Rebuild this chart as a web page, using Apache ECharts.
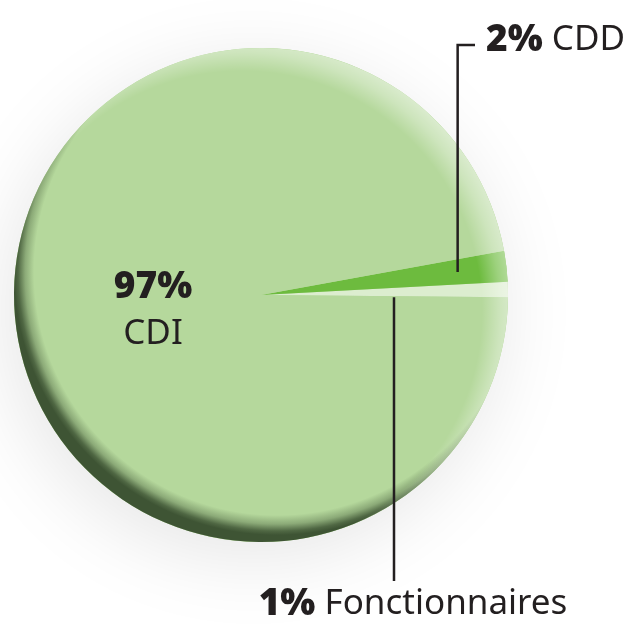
<!DOCTYPE html>
<html>
<head>
<meta charset="utf-8">
<script src="https://cdn.jsdelivr.net/npm/echarts@6/dist/echarts.min.js"></script>
<style>
html,body{margin:0;padding:0;background:#fff;}
#chart{width:636px;height:626px;}
</style>
</head>
<body>
<div id="chart"></div>
<script>
// ---- data ----
const categories = ['Fonctionnaires', 'CDD', 'CDI'];
const shares = [1, 2, 97];
const pctLabels = ['1%', '2%', '97%'];
const sliceColors = ['#dcedcf', '#6dbb3e', '#b5d89c'];

// ---- geometry / style ----
const CX = 261, CY = 295, R = 247;
const START = -0.5; // degrees, counterclockwise
const TXT = '#231f20';
const FONT = '"Noto Sans", sans-serif';

const total = shares.reduce((a, b) => a + b, 0);
function sliceAngles(i) {
  let before = 0;
  for (let k = 0; k < i; k++) before += shares[k];
  const a0 = START + 360 * before / total;
  const a1 = a0 + 360 * shares[i] / total;
  return [a0, a1];
}
function polar(angDeg, r) {
  const a = angDeg * Math.PI / 180;
  return [CX + r * Math.cos(a), CY - r * Math.sin(a)];
}

const pieData = categories.map((c, i) => ({
  name: c, value: shares[i], itemStyle: { color: sliceColors[i] }
}));

const labelData = categories.map((c, i) => ({
  name: c, value: shares[i],
  label: {
    formatter: i === 2 ? '{b|' + pctLabels[i] + '}\n{n|' + c + '}' : '{b|' + pctLabels[i] + '}{n| ' + c + '}'
  },
  labelLine: { show: i !== 2 }
}));

function labelLayout(p) {
  const i = p.dataIndex;
  if (i === 1) { // CDD
    const [a0, a1] = sliceAngles(1);
    const s = polar((a0 + a1) / 2, 198);
    const topY = 45;
    return {
      x: 486, y: 40, align: 'left', verticalAlign: 'middle',
      labelLinePoints: [[s[0], s[1]], [s[0], topY], [475, topY]]
    };
  }
  if (i === 0) { // Fonctionnaires
    const [a0] = sliceAngles(0);
    const x = 394;
    const y0 = CY - (x - CX) * Math.tan(a0 * Math.PI / 180) + 1;
    return {
      x: 413, y: 604, align: 'center', verticalAlign: 'middle',
      labelLinePoints: [[x, y0], [x, 440], [x, 581]]
    };
  }
  return { x: 153, y: 311, align: 'center', verticalAlign: 'middle' };
}

// overlay gradients
const darkDir = [-0.574, 0.819], darkE = 28, darkR = R + darkE;
const hiDir = [0.766, -0.643], hiE = 25, hiR = R + hiE;
const darkGrad = {
  type: 'radial', global: true,
  x: CX - darkE * darkDir[0], y: CY - darkE * darkDir[1], r: darkR,
  colorStops: [
    { offset: 0, color: 'rgba(62,84,52,0)' },
    { offset: 243 / darkR, color: 'rgba(62,84,52,0)' },
    { offset: 252 / darkR, color: 'rgba(62,84,52,0.35)' },
    { offset: 259 / darkR, color: 'rgba(62,84,52,0.85)' },
    { offset: 263 / darkR, color: 'rgba(62,84,52,1)' },
    { offset: 1, color: 'rgba(62,84,52,1)' }
  ]
};
const hiGrad = {
  type: 'radial', global: true,
  x: CX - hiE * hiDir[0], y: CY - hiE * hiDir[1], r: hiR,
  colorStops: [
    { offset: 0, color: 'rgba(255,255,255,0)' },
    { offset: 240 / hiR, color: 'rgba(255,255,255,0)' },
    { offset: 0.95, color: 'rgba(255,255,255,0.33)' },
    { offset: 1, color: 'rgba(255,255,255,0.5)' }
  ]
};

const common = {
  type: 'pie', center: [CX, CY], radius: [0, R],
  startAngle: START, clockwise: false, silent: true,
  avoidLabelOverlap: false, emphasis: { disabled: true },
  label: { show: false }, labelLine: { show: false }
};

const chart = echarts.init(document.getElementById('chart'), null, { renderer: 'canvas' });
chart.setOption({
  animation: false,
  backgroundColor: '#ffffff',
  series: [
    Object.assign({}, common, {
      name: 'base', z: 1,
      data: [{ value: total }],
      itemStyle: { color: '#b5d89c', borderWidth: 0,
        shadowBlur: 80, shadowColor: 'rgba(0,0,0,0.1)', shadowOffsetX: -8, shadowOffsetY: 16 }
    }),
    Object.assign({}, common, {
      name: 'Contrats', z: 2,
      data: pieData,
      itemStyle: { borderWidth: 0 }
    }),
    Object.assign({}, common, {
      name: 'shade', z: 3,
      data: [{ value: total }],
      itemStyle: { color: darkGrad, borderWidth: 0 }
    }),
    Object.assign({}, common, {
      name: 'light', z: 4,
      data: [{ value: total }],
      itemStyle: { color: hiGrad, borderWidth: 0 }
    }),
    Object.assign({}, common, {
      name: 'labels', z: 10,
      data: labelData,
      itemStyle: { color: 'rgba(0,0,0,0)', borderWidth: 0 },
      label: {
        show: true, position: 'outside', color: TXT,
        rich: {
          b: { fontFamily: FONT, fontWeight: 900, fontSize: 37, color: TXT, lineHeight: 47 },
          n: { fontFamily: FONT, fontWeight: 'normal', fontSize: 35, color: TXT, lineHeight: 47 }
        }
      },
      labelLine: { show: true, lineStyle: { color: TXT, width: 2.5 } },
      labelLayout: labelLayout
    })
  ]
});
</script>
</body>
</html>
